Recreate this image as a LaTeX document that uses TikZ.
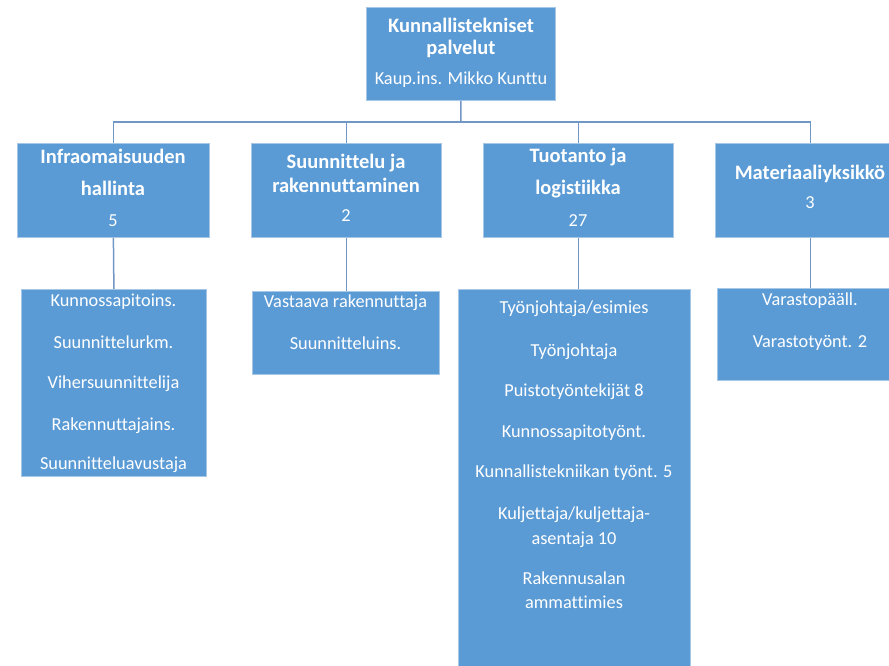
\documentclass[tikz,border=0pt]{standalone}
\usepackage{fontspec}
\setmainfont{Carlito}[Ligatures={NoCommon}]
\definecolor{boxblue}{HTML}{5B9BD5}
\definecolor{boxedge}{HTML}{A7C7E7}
\definecolor{linkblue}{HTML}{7297C4}
\begin{document}
\begin{tikzpicture}[x=1pt,y=-1pt,
  box/.style={fill=boxblue,draw=boxedge,line width=0.8pt,anchor=north west,inner sep=0pt},
  hd/.style={anchor=base,text=white,inner sep=0pt,font=\fontsize{20.5}{22}\selectfont\bfseries},
  tx/.style={anchor=base,text=white,inner sep=0pt,font=\fontsize{18.3}{22}\selectfont},
  conn/.style={draw=linkblue,line width=1.5pt}]
\useasboundingbox (0,0) rectangle (889,666);
\clip (0,0) rectangle (889,666);
% boxes
\node[box,minimum width=189pt,minimum height=93pt] (top) at (366,7) {};
\node[box,minimum width=192pt,minimum height=94pt] (b1) at (17,143) {};
\node[box,minimum width=190pt,minimum height=94pt] (b2) at (251,143) {};
\node[box,minimum width=190pt,minimum height=94pt] (b3) at (483,143) {};
\node[box,minimum width=190pt,minimum height=94pt] (b4) at (715,143) {};
\node[box,minimum width=185pt,minimum height=187pt] (l1) at (21,289) {};
\node[box,minimum width=187pt,minimum height=83pt] (l2) at (252,291) {};
\node[box,minimum width=232pt,minimum height=400pt] (l3) at (458,289) {};
\node[box,minimum width=186pt,minimum height=92pt] (l4) at (717,288) {};
% connectors
\coordinate (bus) at (461,122);
\draw[conn] (top.south) -- (bus);
\draw[conn] (b1.north) -- (b1.north |- bus) -- (b4.north |- bus) -- (b4.north);
\draw[conn] (b2.north |- bus) -- (b2.north);
\draw[conn] (b3.north |- bus) -- (b3.north);
\draw[conn] (b1.south) -- (l1.north);
\draw[conn] (b2.south) -- (b2.south |- l2.north);
\draw[conn] (b3.south) -- (b3.south |- l3.north);
\draw[conn] (b4.south) -- (b4.south |- l4.north);
% texts top
\node[hd] (t1) at (461,33) {Kunnallistekniset};
\node[hd] (t2) at (461,55) {palvelut};
\node[tx] (t3) at (461,85) {Kaup.ins. Mikko Kunttu};
% level 2
\node[hd] (a1) at (113,164) {Infraomaisuuden};
\node[hd] (a2) at (113,195) {hallinta};
\node[tx] (a3) at (113,226) {5};
\node[hd] (c1) at (346,168) {Suunnittelu ja};
\node[hd] (c2) at (346,192) {rakennuttaminen};
\node[tx] (c3) at (346,221) {2};
\node[hd] (d1) at (578,163) {Tuotanto ja};
\node[hd] (d2) at (578,194) {logistiikka};
\node[tx] (d3) at (578,226) {27};
\node[hd] (e1) at (810,179) {Materiaaliyksikkö};
\node[tx] (e2) at (810,208) {3};
% level 3
\node[tx] (p1) at (113.5,306) {Kunnossapitoins.};
\node[tx] (p2) at (113.5,348) {Suunnittelurkm.};
\node[tx] (p3) at (113.5,388) {Vihersuunnittelija};
\node[tx] (p4) at (113.5,430) {Rakennuttajains.};
\node[tx] (p5) at (113.5,469) {Suunnitteluavustaja};
\node[tx] (q1) at (345.5,307) {Vastaava rakennuttaja};
\node[tx] (q2) at (345.5,349) {Suunnitteluins.};
\node[tx] (r1) at (574,313) {Työnjohtaja/esimies};
\node[tx] (r2) at (574,356) {Työnjohtaja};
\node[tx] (r3) at (574,396) {Puistotyöntekijät 8};
\node[tx] (r4) at (574,437) {Kunnossapitotyönt.};
\node[tx] (r5) at (574,477) {Kunnallistekniikan työnt. 5};
\node[tx] (r6) at (574,519) {Kuljettaja/kuljettaja-};
\node[tx] (r7) at (574,544) {asentaja 10};
\node[tx] (r8) at (574,584) {Rakennusalan};
\node[tx] (r9) at (574,608) {ammattimies};
\node[tx] (s1) at (810,305) {Varastopääll.};
\node[tx] (s2) at (810,347) {Varastotyönt. 2};
\end{tikzpicture}
\end{document}
